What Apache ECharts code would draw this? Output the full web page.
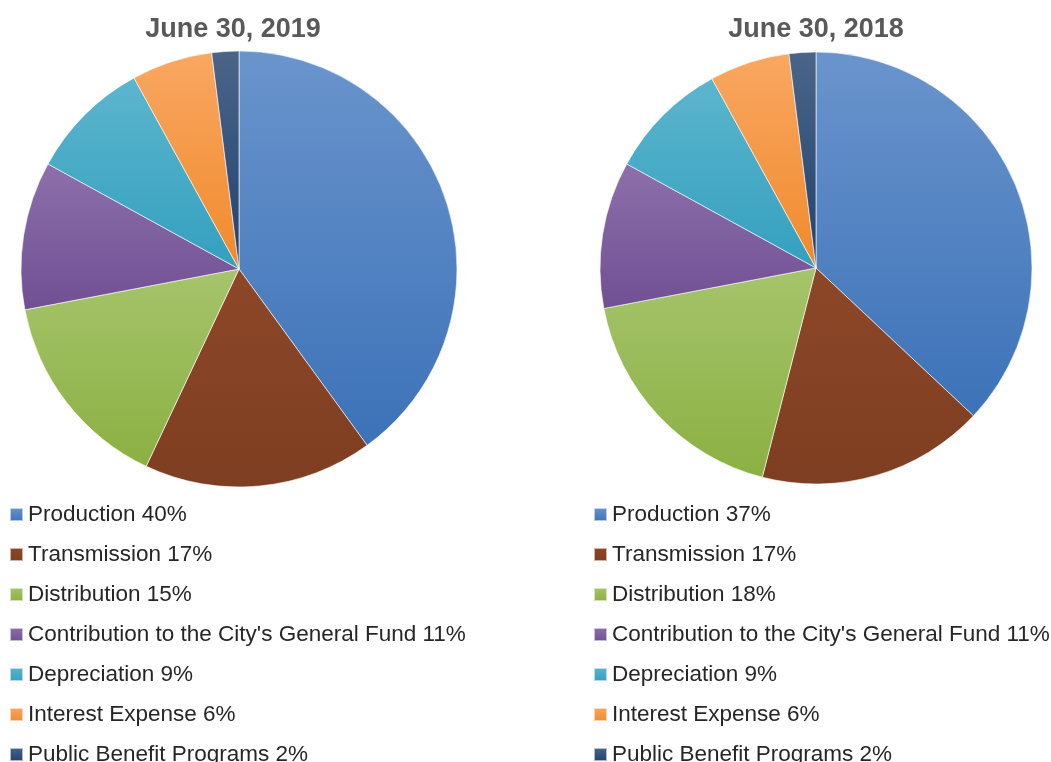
<!DOCTYPE html>
<html>
<head>
<meta charset="utf-8">
<script src="https://cdn.jsdelivr.net/npm/echarts@6/dist/echarts.min.js"></script>
<style>
    html, body { margin: 0; padding: 0; background: #fff; }
    #main { width: 1051px; height: 762px; }
</style>
</head>
<body>
<div id="main"></div>
<script>
// categories
var categories = ['Production', 'Transmission', 'Distribution', "Contribution to the City's General Fund",
    'Depreciation', 'Interest Expense', 'Public Benefit Programs'];
// percent values
var values2019 = [40, 17, 15, 11, 9, 6, 2];
var values2018 = [37, 17, 18, 11, 9, 6, 2];
var titles = ['June 30, 2019', 'June 30, 2018'];

// gradient colours, top -> bottom
var gradTop = ['#6a94cc', '#8d4728', '#a6c46c', '#8d70ab', '#5db5cd', '#f9a762', '#4b6589'];
var gradBottom = ['#3c72b8', '#7e3e21', '#8bb042', '#704f93', '#33a0bf', '#f08a2b', '#1f426e'];

function grad(i) {
    return new echarts.graphic.LinearGradient(0, 0, 0, 1, [
        { offset: 0, color: gradTop[i] },
        { offset: 1, color: gradBottom[i] }
    ]);
}

function makeData(vals) {
    return categories.map(function(c, i) {
        return { name: c, value: vals[i], itemStyle: { color: grad(i) } };
    });
}

function legendFor(vals, left) {
    return {
        orient: 'vertical',
        left: left,
        top: 498,
        height: 400,
        padding: 5,
        icon: 'rect',
        itemWidth: 13,
        itemHeight: 13,
        itemGap: 17,
        data: categories,
        selectedMode: false,
        textStyle: {
            fontFamily: 'Liberation Sans',
            fontSize: 22.5,
            color: '#262626'
        },
        formatter: function(name) {
            return name + ' ' + vals[categories.indexOf(name)] + '%';
        }
    };
}

var myChart = echarts.init(document.getElementById('main'));
var option = {
    animation: false,
    title: [{
        text: titles[0],
        left: 228,
        top: 11,
        textAlign: 'center',
        textStyle: { fontFamily: 'Liberation Sans', fontSize: 27, fontWeight: 'bold', color: '#595959' }
    }, {
        text: titles[1],
        left: 811,
        top: 11,
        textAlign: 'center',
        textStyle: { fontFamily: 'Liberation Sans', fontSize: 27, fontWeight: 'bold', color: '#595959' }
    }],
    legend: [legendFor(values2019, 4), legendFor(values2018, 588)],
    series: [{
        name: titles[0],
        type: 'pie',
        center: [239, 269],
        radius: [0, 218],
        startAngle: 90,
        clockwise: true,
        label: { show: false },
        labelLine: { show: false },
        itemStyle: { borderColor: 'rgba(255,255,255,0.6)', borderWidth: 1 },
        emphasis: { disabled: true },
        data: makeData(values2019)
    }, {
        name: titles[1],
        type: 'pie',
        center: [816, 268],
        radius: [0, 216],
        startAngle: 90,
        clockwise: true,
        label: { show: false },
        labelLine: { show: false },
        itemStyle: { borderColor: 'rgba(255,255,255,0.6)', borderWidth: 1 },
        emphasis: { disabled: true },
        data: makeData(values2018)
    }]
};
myChart.setOption(option);
</script>
</body>
</html>
